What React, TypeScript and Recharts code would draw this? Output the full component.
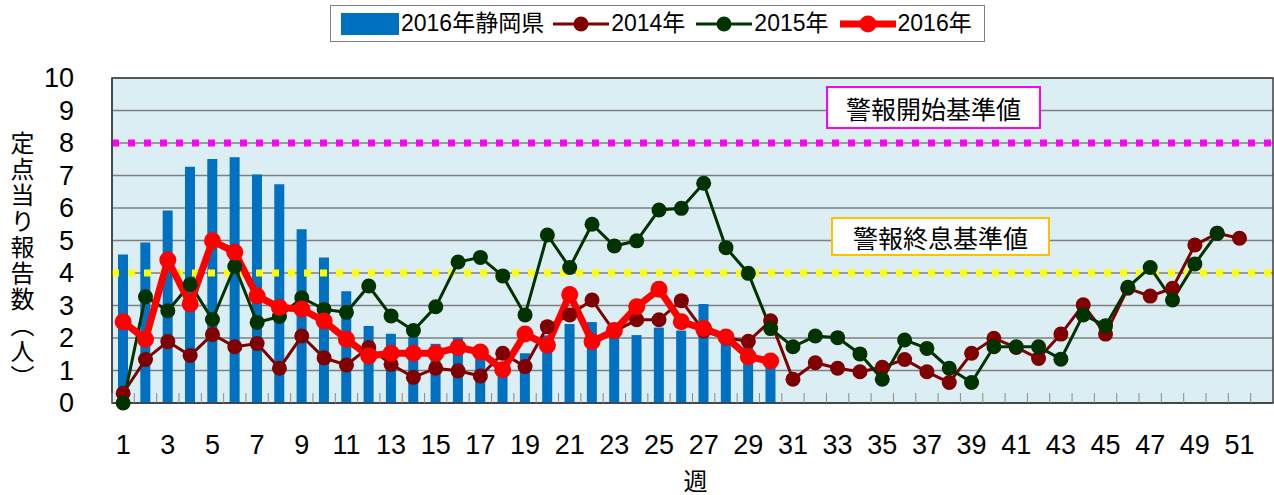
import {
  ComposedChart,
  Bar,
  Line,
  XAxis,
  YAxis,
  CartesianGrid,
  ReferenceLine,
  ReferenceArea,
} from "recharts";

const weeks = [
  1, 2, 3, 4, 5, 6, 7, 8, 9, 10, 11, 12, 13, 14, 15, 16, 17, 18, 19, 20, 21, 22, 23, 24, 25, 26,
  27, 28, 29, 30, 31, 32, 33, 34, 35, 36, 37, 38, 39, 40, 41, 42, 43, 44, 45, 46, 47, 48, 49, 50,
  51, 52,
];
const weekLabels = [1, 3, 5, 7, 9, 11, 13, 15, 17, 19, 21, 23, 25, 27, 29, 31, 33, 35, 37, 39, 41, 43, 45, 47, 49, 51];
const yTicks = [0, 1, 2, 3, 4, 5, 6, 7, 8, 9, 10];

// 2016年 静岡県 (bars)
const shizuoka2016 = [
  4.57, 4.94, 5.92, 7.27, 7.51, 7.56, 7.03, 6.73, 5.35, 4.48, 3.44, 2.37, 2.13, 2.04, 1.82, 2.02,
  1.5, 1.2, 1.53, 2.08, 2.43, 2.49, 2.2, 2.09, 2.32, 2.23, 3.05, 1.9, 1.8, 1.2,
];
const y2014 = [
  0.3, 1.34, 1.89, 1.46, 2.11, 1.73, 1.83, 1.07, 2.06, 1.39, 1.17, 1.71, 1.19, 0.79, 1.07, 0.99,
  0.83, 1.53, 1.12, 2.35, 2.71, 3.17, 2.2, 2.56, 2.56, 3.15, 2.22, 2.0, 1.9, 2.53, 0.73, 1.24,
  1.07, 0.96, 1.1, 1.34, 0.96, 0.63, 1.53, 1.99, 1.71, 1.37, 2.12, 3.02, 2.12, 3.53, 3.29, 3.53,
  4.86, 5.22, 5.07,
];
const y2015 = [
  0, 3.27, 2.84, 3.65, 2.57, 4.2, 2.48, 2.66, 3.24, 2.88, 2.79, 3.6, 2.68, 2.23, 2.96, 4.34, 4.48,
  3.91, 2.71, 5.17, 4.17, 5.5, 4.83, 4.99, 5.94, 5.99, 6.76, 4.78, 3.99, 2.29, 1.73, 2.06, 2.01,
  1.51, 0.73, 1.94, 1.68, 1.07, 0.63, 1.73, 1.73, 1.73, 1.35, 2.71, 2.38, 3.56, 4.17, 3.17, 4.28,
  5.22,
];
const y2016 = [
  2.5, 1.96, 4.4, 3.05, 4.99, 4.64, 3.29, 2.94, 2.89, 2.52, 1.96, 1.45, 1.53, 1.53, 1.53, 1.71,
  1.57, 1.02, 2.12, 1.78, 3.34, 1.89, 2.23, 2.96, 3.5, 2.5, 2.29, 2.03, 1.42, 1.29,
];

const ALERT_START = 8;
const ALERT_END = 4;

const data = weeks.map((w, i) => ({
  week: w,
  shizuoka: shizuoka2016[i] ?? null,
  y2014: y2014[i] ?? null,
  y2015: y2015[i] ?? null,
  y2016: y2016[i] ?? null,
}));

const lines = [
  { key: "y2014", name: "2014年", color: "#7F0000", width: 3, r: 7.5 },
  { key: "y2015", name: "2015年", color: "#003300", width: 3, r: 7.5 },
  { key: "y2016", name: "2016年", color: "#FF0000", width: 7, r: 8.5 },
];

const W = 1274;
const H = 495;
const PLOT_LEFT = 112;
const PLOT_RIGHT = 1273;
const PLOT_BOTTOM = 403;
const NUM = "'Liberation Sans', Arial, sans-serif";
const JP = "'Noto Sans CJK JP', sans-serif";
const FONT = "'Liberation Sans', 'Noto Sans CJK JP', sans-serif";

const WeekTick = (props: any) => {
  const { x, payload } = props;
  const half = (PLOT_RIGHT - PLOT_LEFT) / weeks.length / 2;
  return (
    <g>
      <line x1={x - half} x2={x - half} y1={PLOT_BOTTOM - 10} y2={PLOT_BOTTOM} stroke="#8c8c8c" />
      {weekLabels.includes(payload.value) && (
        <text x={x} y={445} textAnchor="middle" dominantBaseline="central" fontSize={27} fill="#000" fontFamily={NUM}>
          {payload.value}
        </text>
      )}
    </g>
  );
};

const ValueTick = (props: any) => {
  const { y, payload } = props;
  return (
    <text x={74} y={y} textAnchor="end" dominantBaseline="central" fontSize={27} fill="#000" fontFamily={NUM}>
      {payload.value}
    </text>
  );
};

const WeekTitle = (props: any) => {
  const vb = props.viewBox;
  return (
    <text x={vb.x + vb.width / 2 + 3} y={479} textAnchor="middle" dominantBaseline="central" fontSize={24} fill="#000" fontFamily={JP}>
      週
    </text>
  );
};

const dotted = (color: string) => (p: any) => (
  <line x1={p.x1} y1={p.y1} x2={p.x2} y2={p.y2} stroke={color} strokeWidth={7} strokeDasharray="7 9" />
);

const boxLabel = (text: string, border: string, dx: number, dy: number, w: number, h: number) =>
  (props: any) => {
    const vb = props.viewBox;
    const x = vb.x + dx;
    const y = vb.y + dy;
    return (
      <g>
        <rect x={x} y={y} width={w} height={h} fill="#fff" stroke={border} strokeWidth={2} />
        <text
          x={x + w / 2}
          y={y + h / 2}
          textAnchor="middle"
          dominantBaseline="central"
          fontSize={25}
          fill="#000"
          fontFamily={JP}
        >
          {text}
        </text>
      </g>
    );
  };

export default function App() {
  return (
    <div style={{ position: "absolute", left: 0, top: 0, width: W, height: H, overflow: "hidden", fontFamily: FONT, background: "#fff" }}>
      {/* legend */}
      <div
        style={{
          position: "absolute",
          left: 330,
          top: 5,
          width: 655,
          height: 37,
          boxSizing: "border-box",
          border: "1px solid #7f7f7f",
          background: "#fff",
          display: "flex",
          alignItems: "center",
          paddingLeft: 10,
          fontSize: 23,
          lineHeight: 1,
          whiteSpace: "nowrap",
          color: "#000",
          zIndex: 2,
        }}
      >
        <span style={{ display: "inline-block", width: 58, height: 22, background: "#0070C0", marginRight: 2 }} />
        <span style={{ marginRight: 9 }}>2016年静岡県</span>
        {lines.map((l) => (
          <span key={l.key} style={{ display: "flex", alignItems: "center", marginRight: 11 }}>
            <svg width={56} height={20} style={{ marginRight: 2 }}>
              <line x1={0} x2={56} y1={10} y2={10} stroke={l.color} strokeWidth={l.width} />
              <circle cx={28} cy={10} r={l.r} fill={l.color} />
            </svg>
            <span>{l.name}</span>
          </span>
        ))}
      </div>

      {/* y axis title */}
      <div
        style={{
          position: "absolute",
          left: 9,
          top: 131,
          width: 26,
          height: 264,
          writingMode: "vertical-rl",
          fontSize: 24,
          lineHeight: "26px",
          letterSpacing: 2,
          textSpacingTrim: "space-all",
          fontFamily: JP,
          color: "#000",
        } as any}
      >
        定点当り報告数（人）
      </div>

      <ComposedChart
        width={W}
        height={H}
        data={data}
        margin={{ top: 78, right: W - PLOT_RIGHT, bottom: 0, left: 0 }}
        barGap={0}
      >
        <CartesianGrid vertical={false} fill="#DAEEF3" stroke="#7f7f7f" strokeWidth={1.5} />
        <XAxis
          dataKey="week"
          height={92}
          interval={0}
          tick={<WeekTick />}
          tickLine={false}
          axisLine={{ stroke: "#404040", strokeWidth: 1.5 }}
          label={<WeekTitle />}
        />
        <YAxis
          width={PLOT_LEFT}
          domain={[0, 10]}
          ticks={yTicks}
          interval={0}
          tick={<ValueTick />}
          tickLine={false}
          axisLine={{ stroke: "#404040", strokeWidth: 1.5 }}
        />
        <ReferenceArea y1={0} y2={10} fill="none" stroke="#404040" strokeWidth={1.5} />
        <Bar dataKey="shizuoka" fill="#0070C0" barSize={10} isAnimationActive={false} />
        <ReferenceLine
          y={ALERT_START}
          shape={dotted("#FF00FF")}
          label={boxLabel("警報開始基準値", "#FF00FF", 715, -56, 213, 41)}
        />
        <ReferenceLine
          y={ALERT_END}
          shape={dotted("#FFFF00")}
          label={boxLabel("警報終息基準値", "#FFC000", 720, -55, 217, 37)}
        />
        {lines.map((l) => (
          <Line
            key={l.key}
            dataKey={l.key}
            name={l.name}
            stroke={l.color}
            strokeWidth={l.width}
            dot={{ r: l.r, fill: l.color, stroke: "none" }}
            activeDot={false}
            isAnimationActive={false}
          />
        ))}
      </ComposedChart>
    </div>
  );
}
